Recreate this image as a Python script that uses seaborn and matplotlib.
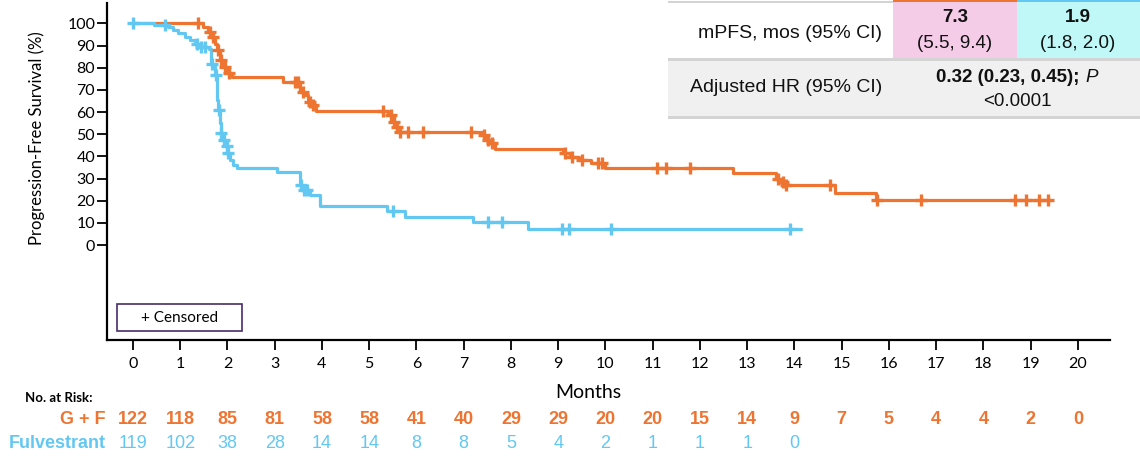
import numpy as np
import matplotlib
matplotlib.use("Agg")
import matplotlib.pyplot as plt
import matplotlib.transforms as mtransforms
from matplotlib.patches import Rectangle
import seaborn as sns

# ---------------- data ----------------
gf_times = [0, 1.48, 1.59, 1.66, 1.73, 1.77, 1.84, 1.91, 1.98, 2.09, 3.18, 3.53, 3.64,
            3.70, 3.78, 3.88, 5.40, 5.50, 5.55, 5.62, 7.38, 7.48, 7.56, 7.66, 9.10,
            9.25, 9.45, 9.70, 9.99, 12.70, 13.60, 13.70, 13.80, 14.86, 15.72, 19.44]
gf_surv = [100, 98.4, 96.2, 93.9, 90.9, 87.9, 83.4, 80.4, 77.4, 75.6, 73.7, 69.2, 67.7,
           64.7, 63.2, 60.5, 58.6, 55.6, 53.4, 51.2, 49.5, 47.6, 45.9, 43.2, 41.5,
           39.9, 38.3, 36.8, 34.6, 32.3, 29.8, 28.6, 27.2, 23.6, 20.3, 20.3]
gf_censor = [1.38, 1.62, 1.70, 1.80, 1.87, 1.95, 2.03, 3.43, 3.50, 3.60, 3.75, 3.82,
             5.30, 5.46, 5.53, 5.58, 5.65, 5.82, 6.14, 7.15, 7.42, 7.52, 7.60, 9.15,
             9.30, 9.50, 9.85, 9.92, 11.10, 11.28, 11.79, 13.65, 13.75, 13.82, 14.75,
             15.75, 16.69, 18.67, 18.90, 19.17, 19.36]

fu_times = [0, 0.45, 0.75, 0.85, 0.95, 1.10, 1.20, 1.32, 1.42, 1.60, 1.66, 1.74, 1.77,
            1.80, 1.84, 1.86, 1.90, 1.95, 2.00, 2.05, 2.12, 2.20, 3.04, 3.53, 3.57,
            3.75, 3.96, 5.37, 5.76, 7.20, 8.36, 14.15]
fu_surv = [100, 99.2, 98.4, 96.8, 95.5, 93.9, 92.4, 90.9, 89.4, 88.6, 81.9, 76.5, 65.4,
           60.9, 55.0, 50.5, 47.5, 44.5, 41.4, 38.5, 36.3, 34.9, 32.8, 27.1, 24.8,
           22.5, 17.6, 15.2, 12.8, 10.2, 7.3, 7.3]
fu_censor = [0.0, 0.68, 1.35, 1.45, 1.52, 1.68, 1.75, 1.82, 1.87, 1.93, 1.98, 2.02,
             3.55, 3.62, 3.68, 5.50, 7.52, 7.82, 9.09, 9.23, 10.11, 13.90]

months = list(range(0, 21))
gf_risk = [122, 118, 85, 81, 58, 58, 41, 40, 29, 29, 20, 20, 15, 14, 9, 7, 5, 4, 4, 2, 0]
fu_risk = [119, 102, 38, 28, 14, 14, 8, 8, 5, 4, 2, 1, 1, 1, 0]

arm_labels = ["G + F", "Fulvestrant"]
mpfs = ["7.3", "1.9"]
mpfs_ci = ["(5.5, 9.4)", "(1.8, 2.0)"]
hr_text = "0.32 (0.23, 0.45);"
p_text = "<0.0001"

ORANGE = "#ED7431"
BLUE = "#62C8F1"

# ---------------- style ----------------
sns.set_theme(style="white")
plt.rcParams["font.family"] = ["Lato", "DejaVu Sans"]
ARIAL = ["Liberation Sans", "DejaVu Sans"]

W, H = 1140, 466
fig = plt.figure(figsize=(W / 100, H / 100), dpi=100)
fig.patch.set_facecolor("white")

x0, x1, ytop, ybot = 107, 1110, 3, 340
ax = fig.add_axes([x0 / W, 1 - ybot / H, (x1 - x0) / W, (ybot - ytop) / H])
ax.set_facecolor("white")


def step_value(times, surv, t):
    i = np.searchsorted(np.asarray(times), t, side="right") - 1
    return np.asarray(surv)[i]


for times, surv, cens, col in [(gf_times, gf_surv, gf_censor, ORANGE),
                               (fu_times, fu_surv, fu_censor, BLUE)]:
    sns.lineplot(x=times, y=surv, drawstyle="steps-post", color=col, lw=2.3,
                 estimator=None, sort=False, ax=ax, zorder=3)
    cy = [step_value(times, surv, t) for t in cens]
    sns.scatterplot(x=cens, y=cy, marker="+", s=75, linewidth=2.4, color=col,
                    ax=ax, zorder=4)

ax.set_xlim(-0.55, 20.68)
ax.set_ylim(-42.85, 109.2)
ax.set_xticks(months)
ax.set_yticks(range(0, 101, 10))
for s in ["top", "right"]:
    ax.spines[s].set_visible(False)
for s in ["left", "bottom"]:
    ax.spines[s].set_color("black")
    ax.spines[s].set_linewidth(1.6)
ax.tick_params(axis="both", direction="out", length=7, width=1.3, color="black",
               labelsize=11.5, labelcolor="black", bottom=True, left=True)
ax.tick_params(axis="y", pad=1.5)
ax.tick_params(axis="x", pad=5)
ax.set_xlabel("")
ax.set_ylabel("")
ax.text(-0.0698, 0.6, "Progression-Free Survival (%)", transform=ax.transAxes,
        rotation=90, ha="center", va="center", fontsize=12, color="black")

# overlay in pixel coordinates
ov = fig.add_axes([0, 0, 1, 1], zorder=10)
ov.set_xlim(0, W)
ov.set_ylim(H, 0)
ov.axis("off")

# Months label and risk table
ov.text(588, 392, "Months", ha="center", va="center", fontsize=14, color="black")
ov.text(25, 398, "No. at Risk:", ha="left", va="center", fontsize=9.5,
        fontweight="bold", color="black")
ov.text(106, 419, arm_labels[0], ha="right", va="center", fontsize=13,
        fontweight="bold", color=ORANGE, family=ARIAL)
ov.text(106, 444, arm_labels[1], ha="right", va="center", fontsize=13,
        fontweight="bold", color=BLUE, family=ARIAL)
tr = mtransforms.blended_transform_factory(ax.transData, ov.transData)
for m, n in zip(months, gf_risk):
    ov.text(m, 419, str(n), transform=tr, ha="center", va="center", fontsize=13,
            fontweight="bold", color=ORANGE, family=ARIAL)
for m, n in zip(months, fu_risk):
    ov.text(m, 444, str(n), transform=tr, ha="center", va="center", fontsize=13,
            color=BLUE, family=ARIAL)

# Censored legend box
ov.add_patch(Rectangle((117, 304), 125, 27, fill=False, edgecolor="#4A2C6A", lw=1.2))
ov.text(179.5, 317.5, "+ Censored", ha="center", va="center", fontsize=11, color="black")

# Top-right summary table
GREY = "#D4D4D4"
ov.add_patch(Rectangle((893, 2), 124, 56, facecolor="#F4CCE8", edgecolor="none"))
ov.add_patch(Rectangle((1017, 2), 123, 56, facecolor="#BFF8F6", edgecolor="none"))
ov.add_patch(Rectangle((893, 0), 124, 2, facecolor=ORANGE, edgecolor="none"))
ov.add_patch(Rectangle((1017, 0), 123, 2, facecolor=BLUE, edgecolor="none"))
ov.add_patch(Rectangle((668, 1), 225, 2, facecolor=GREY, edgecolor="none"))
ov.add_patch(Rectangle((668, 60), 472, 56, facecolor="#F0F0F0", edgecolor="none"))
ov.add_patch(Rectangle((668, 58), 472, 2.5, facecolor=GREY, edgecolor="none"))
ov.add_patch(Rectangle((668, 116), 472, 2.5, facecolor=GREY, edgecolor="none"))

ov.text(882, 33, "mPFS, mos (95% CI)", ha="right", va="center", fontsize=14,
        color="#111111", family=ARIAL)
ov.text(882, 88, "Adjusted HR (95% CI)", ha="right", va="center", fontsize=14,
        color="#111111", family=ARIAL)
for cx, v, ci in [(955, mpfs[0], mpfs_ci[0]), (1078, mpfs[1], mpfs_ci[1])]:
    ov.text(cx, 18, v, ha="center", va="center", fontsize=13.5, fontweight="bold",
            color="#111111", family=ARIAL)
    ov.text(cx, 43, ci, ha="center", va="center", fontsize=13.5, color="#111111",
            family=ARIAL)

renderer = fig.canvas.get_renderer()
t1 = ov.text(0, 77, hr_text + " ", ha="left", va="center", fontsize=13.5,
             fontweight="bold", color="#111111", family=ARIAL)
t2 = ov.text(0, 77, "P", ha="left", va="center", fontsize=13.5, style="italic",
             color="#111111", family=ARIAL)
w1 = t1.get_window_extent(renderer).width
w2 = t2.get_window_extent(renderer).width
start = 1017 - (w1 + w2) / 2
t1.set_x(start)
t2.set_x(start + w1)
ov.text(1017, 102, p_text, ha="center", va="center", fontsize=13.5,
        color="#111111", family=ARIAL)

fig.savefig("out.png", dpi=100, facecolor="white")
